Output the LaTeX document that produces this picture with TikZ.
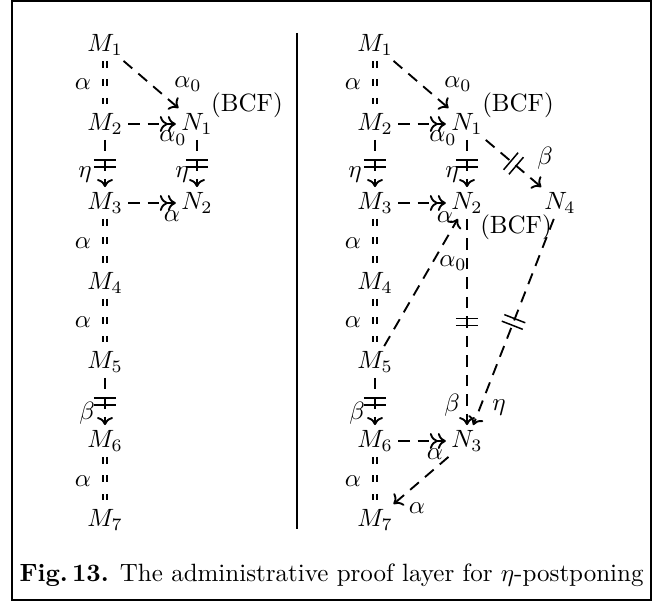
\documentclass[tikz,border=0pt]{standalone}
\usetikzlibrary{arrows.meta,decorations.markings}
\begin{document}
\begin{tikzpicture}[x=0.4pt,y=-0.4pt,
  obj/.style={inner sep=2pt},
  lbl/.style={inner sep=0pt},
  dsh/.style={line width=0.75pt, dash pattern=on 4.6pt off 3.2pt},
  eqln/.style={double, double distance=0.9pt, line width=0.65pt, dash pattern=on 2.8pt off 4.6pt, shorten >=1.5pt},
  arr/.style={-{Computer Modern Rightarrow[length=3.2pt,width=6.4pt]}},
  darr/.style={-{Computer Modern Rightarrow[length=3.2pt,width=6.4pt]Computer Modern Rightarrow[length=3.2pt,width=6.4pt]}},
  dbar/.style={postaction={decorate,decoration={markings,
     mark=at position #1 with {\draw[solid,-,line width=0.6pt] (-1.4pt,-4.5pt)--(-1.4pt,4.5pt) (1.4pt,-4.5pt)--(1.4pt,4.5pt);}}}}
]
\useasboundingbox (0,0) rectangle (664,612);
\draw[line width=0.8pt] (12,1) rectangle (651,600);
\draw[line width=0.8pt] (297,33) -- (297,529);

% ---------- left diagram ----------
\node[obj] (LM1) at (105,45) {$M_1$};
\node[obj] (LM2) at (105,124) {$M_2$};
\node[obj] (LM3) at (105,203) {$M_3$};
\node[obj] (LM4) at (105,283) {$M_4$};
\node[obj] (LM5) at (105,362) {$M_5$};
\node[obj] (LM6) at (105,441) {$M_6$};
\node[obj] (LM7) at (105,520) {$M_7$};
\node[obj] (LN1) at (197,124) {$N_1$};
\node[obj] (LN2) at (197,203) {$N_2$};

\draw[eqln] (LM1) -- (LM2);
\draw[eqln] (LM3) -- (LM4);
\draw[eqln] (LM4) -- (LM5);
\draw[eqln] (LM6) -- (LM7);
\draw[dsh,arr] (LM1) -- (LN1);
\draw[dsh,darr] (LM2) -- (LN1);
\draw[dsh,darr] (LM3) -- (LN2);
\draw[dsh,arr,dbar=0.5] (LM2) -- (LM3);
\draw[dsh,arr,dbar=0.5] (LN1) -- (LN2);
\draw[dsh,arr,dbar=0.5] (LM5) -- (LM6);

\node[lbl] (la1) at (83,84) {$\alpha$};
\node[lbl] (la2) at (83,243) {$\alpha$};
\node[lbl] (la3) at (83,322) {$\alpha$};
\node[lbl] (la4) at (83,481) {$\alpha$};
\node[lbl] (lb1) at (87,413) {$\beta$};
\node[lbl] (le1) at (85,175) {$\eta$};
\node[lbl] (le2) at (182,175) {$\eta$};
\node[lbl] (lz1) at (188,84) {$\alpha_0$};
\node[lbl] (lz2) at (173,138) {$\alpha_0$};
\node[lbl] (la5) at (172,216) {$\alpha$};
\node[lbl] (lbcf) at (247,105) {(BCF)};

% ---------- right diagram ----------
\node[obj] (RM1) at (375,45) {$M_1$};
\node[obj] (RM2) at (375,124) {$M_2$};
\node[obj] (RM3) at (375,203) {$M_3$};
\node[obj] (RM4) at (375,283) {$M_4$};
\node[obj] (RM5) at (375,362) {$M_5$};
\node[obj] (RM6) at (375,441) {$M_6$};
\node[obj] (RM7) at (375,520) {$M_7$};
\node[obj] (RN1) at (467,124) {$N_1$};
\node[obj] (RN2) at (467,203) {$N_2$};
\node[obj] (RN4) at (560,203) {$N_4$};
\node[obj] (RN3) at (467,441) {$N_3$};

\draw[eqln] (RM1) -- (RM2);
\draw[eqln] (RM3) -- (RM4);
\draw[eqln] (RM4) -- (RM5);
\draw[eqln] (RM6) -- (RM7);
\draw[dsh,arr] (RM1) -- (RN1);
\draw[dsh,darr] (RM2) -- (RN1);
\draw[dsh,darr] (RM3) -- (RN2);
\draw[dsh,darr] (RM6) -- (RN3);
\draw[dsh,arr,dbar=0.5] (RM2) -- (RM3);
\draw[dsh,arr,dbar=0.5] (RN1) -- (RN2);
\draw[dsh,arr,dbar=0.5] (RM5) -- (RM6);
\draw[dsh,arr,dbar=0.5] (RN1) -- (RN4);
\draw[dsh,arr,dbar=0.5] (RN2) -- (RN3);
\draw[dsh,arr,dbar=0.5] (RN4) -- (RN3);
\draw[dsh,arr] (RM5) -- (RN2);
\draw[dsh,arr] (RN3) -- (RM7);

\node[lbl] (ra1) at (353,84) {$\alpha$};
\node[lbl] (ra2) at (353,243) {$\alpha$};
\node[lbl] (ra3) at (353,322) {$\alpha$};
\node[lbl] (ra4) at (353,481) {$\alpha$};
\node[lbl] (rb1) at (357,413) {$\beta$};
\node[lbl] (re1) at (355,175) {$\eta$};
\node[lbl] (re2) at (452,175) {$\eta$};
\node[lbl] (rz1) at (458,84) {$\alpha_0$};
\node[lbl] (rz2) at (443,138) {$\alpha_0$};
\node[lbl] (ra5) at (445,217) {$\alpha$};
\node[lbl] (rbcf1) at (518,105) {(BCF)};
\node[lbl] (rbcf2) at (516,227) {(BCF)};
\node[lbl] (rb2) at (545,158) {$\beta$};
\node[lbl] (rz3) at (453,263) {$\alpha_0$};
\node[lbl] (rb3) at (452,405) {$\beta$};
\node[lbl] (re3) at (499,408) {$\eta$};
\node[lbl] (ra6) at (435,454) {$\alpha$};
\node[lbl] (ra7) at (417,508) {$\alpha$};

% ---------- caption ----------
\node[lbl,anchor=base west] (cap) at (19,581)
  {\textbf{Fig.\,13.} The administrative proof layer for $\eta$-postponing};
\end{tikzpicture}
\end{document}
